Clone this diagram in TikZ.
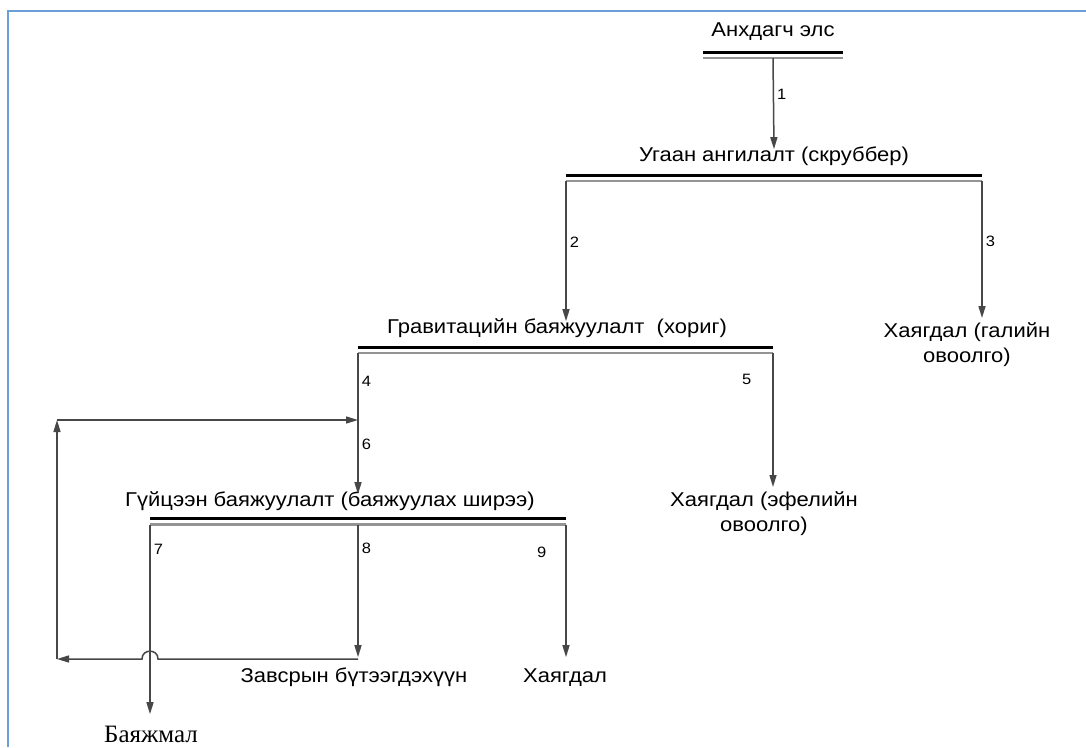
\documentclass[tikz,border=0pt]{standalone}
\usepackage{fontspec}
\setmainfont[FakeStretch=1.1]{Liberation Sans}
\newfontfamily\serifmn{Liberation Serif}
\usetikzlibrary{arrows.meta,calc}
\definecolor{frameblue}{HTML}{6A9FD8}

\begin{document}
\begin{tikzpicture}[x=1pt,y=-1pt,
    txt/.style={font=\fontsize{20}{25}\selectfont, align=center,
                text height=0.75em, text depth=0.22em,
                inner sep=2pt, outer sep=3pt},
    txttwo/.style={font=\fontsize{20}{25}\selectfont, align=center,
                   inner sep=2pt, outer sep=3pt, anchor=north},
    num/.style={font=\fontsize{15}{15}\selectfont, inner sep=3pt},
    flow/.style={draw=black!72, line width=1.5pt,
                 -{Triangle[length=12pt,width=7pt]}},
    bar/.style={minimum height=6pt, inner sep=0pt, outer sep=0pt},
    bartop/.style={line width=3pt, black},
    barbot/.style={line width=2.2pt, black!42}]
  \useasboundingbox (0,0) rectangle (1086,747);
  \draw[frameblue, line width=2pt] (8,747) -- (8,11) -- (1086,11);

  % stages
  \node[txt] (src)   at (773,34)  {Анхдагч элс};
  \node[txt] (scr)   at (774,159) {Угаан ангилалт (скруббер)};
  \node[txt] (grav)  at (557,331) {Гравитацийн баяжуулалт\ \ (хориг)};
  \node[txttwo] (tailA) at (967,318) {Хаягдал (галийн\\овоолго)};
  \node[txt] (fine)  at (330,504) {Гүйцээн баяжуулалт (баяжуулах ширээ)};
  \node[txttwo] (tailB) at (764,487) {Хаягдал (эфелийн\\овоолго)};
  \node[txt, outer sep=16pt] (mid)   at (354,680) {Завсрын бүтээгдэхүүн};
  \node[txt, outer sep=16pt] (tailC) at (565,680) {Хаягдал};
  \node[txt, outer sep=19pt, font=\serifmn\fontsize{25}{25}\selectfont]
    (conc) at (151,740) {Баяжмал};

  % bars
  \node[bar, minimum width=140pt] (b1) at (773,55) {};
  \node[bar, minimum width=416pt] (b2) at (774,178) {};
  \node[bar, minimum width=415pt] (b3) at (565.5,350) {};
  \node[bar, minimum width=416pt] (b4) at (358,521.5) {};
  \foreach \b in {b1,b2,b3,b4} {
    \draw[bartop] (\b.north west) -- (\b.north east);
    \draw[barbot] (\b.south west) -- (\b.south east);
  }

  % flows
  \draw[flow] (b1.south) -- node[num,right,pos=0.4]{1} (scr.north);
  \draw[flow] (b2.south west) -- node[num,right,pos=0.44]{2}
    (b2.south west |- grav.north);
  \draw[flow] (b2.south east) -- node[num,right,pos=0.44]{3}
    (b2.south east |- tailA.north);
  \draw[flow] (b3.south west) -- node[num,right,pos=0.2]{4}
    node[num,right,pos=0.65]{6} (b3.south west |- fine.north);
  \draw[flow] (b3.south east) -- node[num,left,pos=0.2,xshift=-18pt]{5}
    (b3.south east |- tailB.north);
  \draw[flow] (b4.south west) -- node[num,right,pos=0.13]{7}
    (b4.south west |- conc.north);
  \draw[flow] (b4.south) -- node[num,right,pos=0.18]{8}
    (b4.south |- mid.north);
  \draw[flow] (b4.south east) -- node[num,left,pos=0.21,xshift=-16pt]{9}
    (b4.south east |- tailC.north);

  % return of middlings
  \coordinate (retL) at (57,659);
  \coordinate (retT) at (57,420);
  \draw[flow] (b4.south |- retL)
    -- ($(b4.south west |- retL)+(8,0)$)
    .. controls +(0,-10.5) and +(0,-10.5) .. ($(b4.south west |- retL)+(-8,0)$)
    -- (retL);
  \draw[flow] (retL) -- (retT);
  \draw[flow] (retT) -- (retT -| b3.south west);
\end{tikzpicture}
\end{document}
